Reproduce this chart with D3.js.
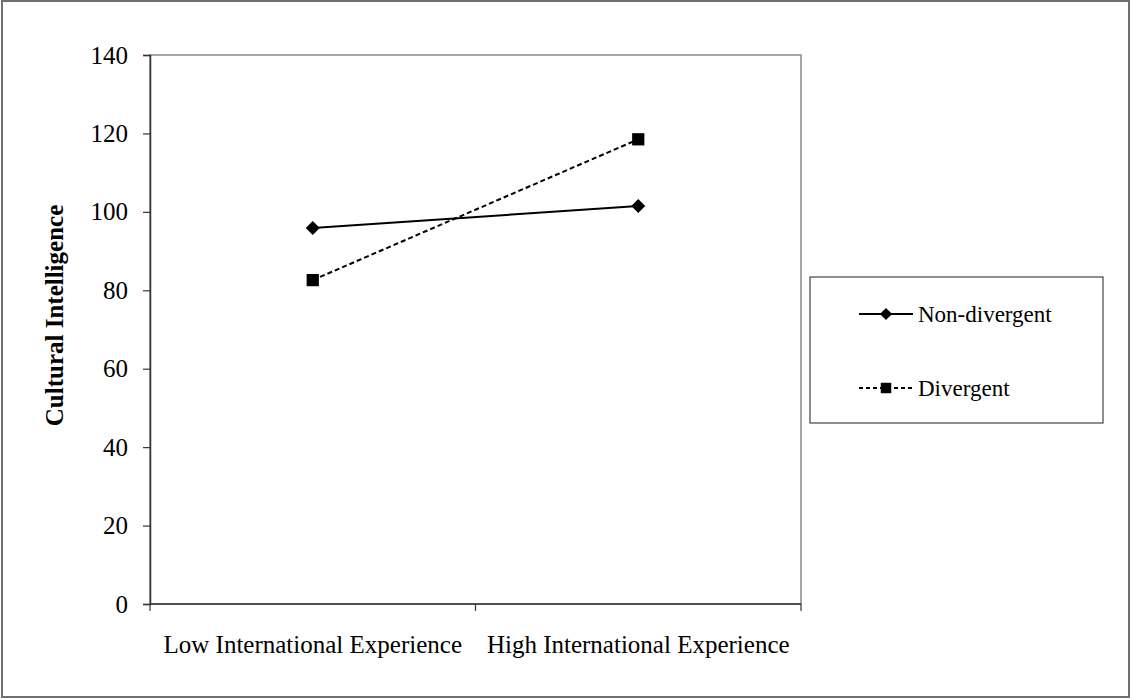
<!DOCTYPE html>
<html>
<head>
<meta charset="utf-8">
<script src="https://cdn.jsdelivr.net/npm/d3@7"></script>
<style>
  html, body { margin: 0; padding: 0; background: #fff; }
  svg { display: block; }
  text { font-family: "Liberation Serif", "Times New Roman", serif; fill: #000; }
</style>
</head>
<body>
<svg id="chart" width="1131" height="699"></svg>
<script>
const categories = ["Low International Experience", "High International Experience"];
const seriesNames = ["Non-divergent", "Divergent"];
const nonDivergent = [95.9, 101.5];
const divergent = [82.6, 118.5];
const yTicks = [0, 20, 40, 60, 80, 100, 120, 140];
const yTitle = "Cultural Intelligence";

const svg = d3.select("#chart");
const W = 1131, H = 699;
const plot = { left: 150, right: 801, top: 55, bottom: 604 };
const FONT = "'Liberation Serif', 'Times New Roman', serif";

// outer frame
svg.append("rect").attr("x", 2).attr("y", 1).attr("width", W - 4).attr("height", H - 3)
  .attr("fill", "none").attr("stroke", "#6f6f6f").attr("stroke-width", 2);

const x = d3.scaleBand().domain(categories).range([plot.left, plot.right]).paddingInner(0).paddingOuter(0);
const y = d3.scaleLinear().domain([0, 140]).range([plot.bottom, plot.top]);

// plot border (top/right gray)
svg.append("rect").attr("x", plot.left).attr("y", plot.top)
  .attr("width", plot.right - plot.left).attr("height", plot.bottom - plot.top)
  .attr("fill", "none").attr("stroke", "#8a8a8a").attr("stroke-width", 1.5);

// y axis
const yAxis = svg.append("g").attr("transform", `translate(${plot.left},0)`)
  .call(d3.axisLeft(y).tickValues(yTicks).tickSize(7).tickPadding(15).tickFormat(d3.format("d")));
yAxis.attr("font-family", FONT).attr("font-size", 25);
yAxis.select(".domain").attr("stroke", "#333").attr("stroke-width", 1.5);
yAxis.selectAll(".tick line").attr("stroke", "#333").attr("stroke-width", 1.2);
yAxis.selectAll("text").attr("font-size", 25).attr("fill", "#000");

// x axis
const xTickPos = [plot.left, (plot.left + plot.right) / 2, plot.right];
const xAxis = svg.append("g").attr("transform", `translate(0,${plot.bottom})`);
xAxis.append("line").attr("x1", plot.left).attr("x2", plot.right).attr("y1", 0).attr("y2", 0)
  .attr("stroke", "#333").attr("stroke-width", 1.5);
xAxis.selectAll("line.tk").data(xTickPos).enter().append("line").attr("class", "tk")
  .attr("x1", d => d).attr("x2", d => d).attr("y1", 0).attr("y2", 7)
  .attr("stroke", "#333").attr("stroke-width", 1.2);
xAxis.selectAll("text.cat").data(categories).enter().append("text").attr("class", "cat")
  .attr("x", d => x(d) + x.bandwidth() / 2).attr("y", 49)
  .attr("text-anchor", "middle").attr("font-size", 25).text(d => d);

// y title
svg.append("text").attr("transform", `translate(63,${(plot.top + plot.bottom) / 2 - 14}) rotate(-90)`)
  .attr("text-anchor", "middle").attr("font-size", 25).attr("font-weight", "bold").text(yTitle);

const cx = d => x(d) + x.bandwidth() / 2;
const line = d3.line().x(d => cx(d.c)).y(d => y(d.v));
const ndData = categories.map((c, i) => ({ c, v: nonDivergent[i] }));
const dvData = categories.map((c, i) => ({ c, v: divergent[i] }));

svg.append("path").datum(ndData).attr("d", line).attr("fill", "none")
  .attr("stroke", "#000").attr("stroke-width", 2);
svg.append("path").datum(dvData).attr("d", line).attr("fill", "none")
  .attr("stroke", "#000").attr("stroke-width", 2).attr("stroke-dasharray", "5,3");

const diamondType = d3.symbolDiamond2 || d3.symbolDiamond;
const diamondSym = d3.symbol().type(diamondType).size(125);
const squareSym = d3.symbol().type(d3.symbolSquare).size(150);
svg.selectAll("path.nd").data(ndData).enter().append("path").attr("class", "nd")
  .attr("d", diamondSym)
  .attr("transform", d => `translate(${cx(d.c)},${y(d.v)})`).attr("fill", "#000");
svg.selectAll("path.dv").data(dvData).enter().append("path").attr("class", "dv")
  .attr("d", squareSym).attr("transform", d => `translate(${cx(d.c)},${y(d.v)})`).attr("fill", "#000");

// legend
const lg = svg.append("g");
lg.append("rect").attr("x", 810).attr("y", 277).attr("width", 293).attr("height", 146)
  .attr("fill", "#fff").attr("stroke", "#444").attr("stroke-width", 1.2);
const legendRows = [
  { name: seriesNames[0], y: 314, dash: null, sym: d3.symbol().type(diamondType).size(95) },
  { name: seriesNames[1], y: 388, dash: "4,3", sym: d3.symbol().type(d3.symbolSquare).size(110) }
];
legendRows.forEach(r => {
  lg.append("line").attr("x1", 859).attr("x2", 913).attr("y1", r.y).attr("y2", r.y)
    .attr("stroke", "#000").attr("stroke-width", 2).attr("stroke-dasharray", r.dash);
  lg.append("path").attr("d", r.sym).attr("transform", `translate(886,${r.y})`).attr("fill", "#000");
  lg.append("text").attr("x", 918).attr("y", r.y + 8).attr("font-size", 23).text(r.name);
});
</script>
</body>
</html>
